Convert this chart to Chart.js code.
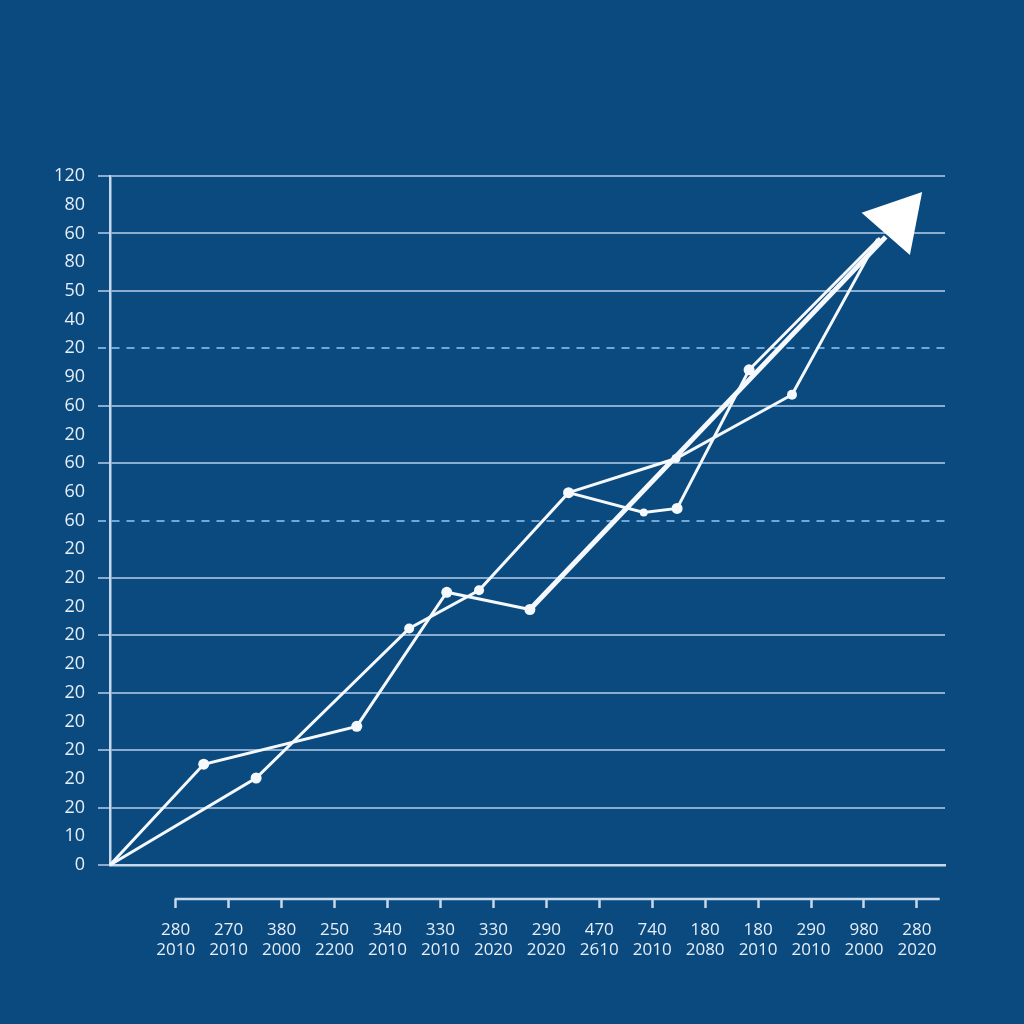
<!DOCTYPE html>
<html>
<head>
<meta charset="utf-8">
<script src="https://cdn.jsdelivr.net/npm/chart.js@4.4.1/dist/chart.umd.min.js"></script>
<style>
    html, body { margin: 0; padding: 0; background: #0b4a7f; }
    #wrap { width: 1024px; height: 1024px; position: relative; }
</style>
</head>
<body>
<div id="wrap"><canvas id="chart"></canvas></div>
<script>
// tick labels as printed on the picture (y from bottom to top)
const yLabels = ['0', '10', '20', '20', '20', '20', '20', '20', '20', '20', '20', '20',
    '60', '60', '60', '20', '60', '90', '20', '40', '50', '80', '60', '80', '120'];
const xTop = ['280', '270', '380', '250', '340', '330', '330', '290', '470', '740', '180', '180', '290', '980', '280'];
const xBottom = ['2010', '2010', '2000', '2200', '2010', '2010', '2020', '2020', '2610', '2010', '2080', '2010', '2010', '2000', '2020'];
const dashedRows = [12, 18];

// series, x in bottom-tick units, y in row units
const seriesA = [
    { x: -1.24, y: 0 }, { x: 0.53, y: 3.51 }, { x: 3.42, y: 4.83 },
    { x: 5.12, y: 9.5 }, { x: 6.69, y: 8.9 }
];
const seriesB = [
    { x: -1.24, y: 0 }, { x: 1.52, y: 3.03 }, { x: 4.41, y: 8.24 }, { x: 5.73, y: 9.57 },
    { x: 7.42, y: 12.97 }, { x: 8.84, y: 12.28 }, { x: 9.47, y: 12.42 },
    { x: 10.83, y: 17.25 }, { x: 13.3, y: 21.84 }
];
const seriesC = [
    { x: 7.42, y: 12.97 }, { x: 9.45, y: 14.16 }, { x: 11.64, y: 16.38 }, { x: 13.26, y: 21.81 }
];
const trend = [{ x: 6.69, y: 8.9 }, { x: 13.41, y: 21.88 }];
const arrowTip = [{ x: 13.64, y: 22.47 }];

const xMin = -1.24, xMax = 14.53, xAxisEnd = 14.43;
const gridColor = 'rgba(170, 198, 228, 0.8)';
const dashColor = 'rgba(120, 172, 222, 0.95)';
const axisColor = '#c6d8ec';
const textColor = '#e6eef7';
const lineColor = '#f5f8fc';

Chart.defaults.font.family = "'Open Sans', sans-serif";

// bottom axis line only spans the labelled ticks
const bottomAxisLine = {
    id: 'bottomAxisLine',
    afterDraw(chart) {
        const s = chart.scales.x2;
        const ctx = chart.ctx;
        ctx.save();
        ctx.strokeStyle = axisColor;
        ctx.lineWidth = 2.5;
        ctx.beginPath();
        ctx.moveTo(s.getPixelForValue(0) - 1, s.top);
        ctx.lineTo(s.getPixelForValue(xAxisEnd), s.top);
        ctx.stroke();
        ctx.restore();
    }
};

function rowColor(ctx) {
    if (ctx.index % 2) return 'transparent';
    return dashedRows.includes(ctx.index) ? dashColor : gridColor;
}
function rowDash(ctx) {
    return dashedRows.includes(ctx.index) ? [8, 7] : [];
}

function lineSet(data, radii) {
    return {
        data: data,
        borderColor: lineColor,
        backgroundColor: lineColor,
        borderWidth: 3,
        pointRadius: radii,
        pointBorderWidth: 0,
        tension: 0,
        clip: false
    };
}

new Chart(document.getElementById('chart'), {
    type: 'line',
    data: {
        datasets: [
            lineSet(seriesA, [0, 5.5, 5.5, 5.5, 5.5]),
            lineSet(seriesB, [0, 5.5, 5, 5, 5.5, 4, 5.5, 5.5, 0]),
            lineSet(seriesC, [0, 4.5, 5, 0]),
            { ...lineSet(trend, 0), borderWidth: 5 },
            {
                data: arrowTip,
                showLine: false,
                pointStyle: 'triangle',
                pointRadius: 37,
                pointRotation: 41,
                pointBorderWidth: 0,
                backgroundColor: '#ffffff',
                clip: false
            }
        ]
    },
    options: {
        responsive: true,
        maintainAspectRatio: false,
        animation: false,
        events: [],
        layout: { padding: { left: 30, right: 79, top: 176, bottom: 45 } },
        plugins: { legend: { display: false }, tooltip: { enabled: false } },
        scales: {
            x: {
                type: 'linear',
                min: xMin,
                max: xMax,
                weight: 0,
                afterFit: s => { s.height = 34; },
                ticks: { display: false },
                grid: { display: false },
                border: { display: true, color: axisColor, width: 2.5 }
            },
            x2: {
                type: 'linear',
                position: 'bottom',
                min: xMin,
                max: xMax,
                weight: 1,
                afterBuildTicks: s => { s.ticks = xTop.map((_, i) => ({ value: i })); },
                afterFit: s => { s.height = 80; },
                border: { display: false },
                grid: { drawOnChartArea: false, drawTicks: true, tickLength: 9, tickColor: axisColor, tickWidth: 2.5 },
                ticks: {
                    autoSkip: false,
                    maxRotation: 0,
                    padding: 12,
                    color: textColor,
                    font: { size: 17 },
                    callback: v => [xTop[v], xBottom[v]]
                }
            },
            y: {
                min: 0,
                max: 24,
                afterFit: s => { s.width = 80; },
                ticks: {
                    stepSize: 1,
                    autoSkip: false,
                    padding: 13,
                    color: textColor,
                    font: { size: 18 },
                    callback: v => yLabels[v]
                },
                grid: {
                    color: rowColor,
                    tickColor: rowColor,
                    lineWidth: 2,
                    tickWidth: 2,
                    tickLength: 12,
                    tickBorderDash: rowDash
                },
                border: { display: true, color: axisColor, width: 2.5, dash: rowDash }
            }
        }
    },
    plugins: [bottomAxisLine]
});
</script>
</body>
</html>
